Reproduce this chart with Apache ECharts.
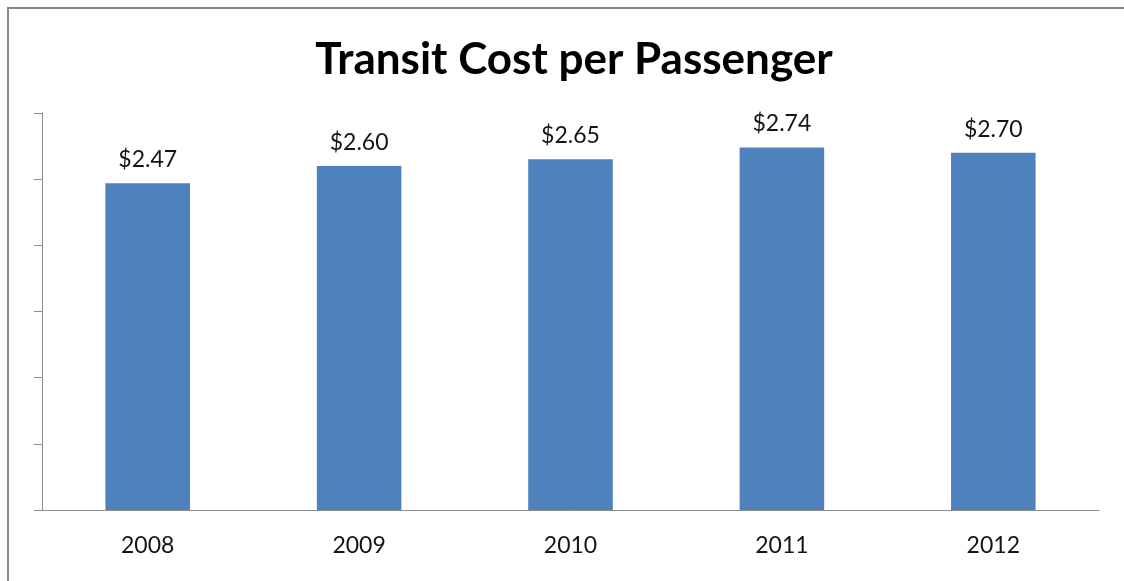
<!DOCTYPE html>
<html>
<head>
<meta charset="utf-8">
<script src="https://cdn.jsdelivr.net/npm/echarts@6/dist/echarts.min.js"></script>
<style>
html,body{margin:0;padding:0;background:#fff;}
#chart{width:1124px;height:581px;}
</style>
</head>
<body>
<div id="chart"></div>
<script>
const categories = ['2008', '2009', '2010', '2011', '2012'];
const costPerPassenger = [2.47, 2.60, 2.65, 2.74, 2.70];
const titleText = 'Transit Cost per Passenger';

const chart = echarts.init(document.getElementById('chart'), null, {renderer: 'canvas'});
chart.setOption({
  animation: false,
  backgroundColor: '#fff',
  title: {
    text: titleText,
    left: 569,
    textAlign: 'center',
    top: 33,
    textStyle: {fontFamily: 'Lato', fontWeight: 'bold', fontSize: 44, color: '#000'}
  },
  graphic: [{
    type: 'rect',
    shape: {x: 8, y: 8, width: 1300, height: 800},
    style: {fill: 'none', stroke: '#8a8a8a', lineWidth: 2},
    silent: true
  }],
  grid: {left: 42, right: 25, top: 113, bottom: 71},
  xAxis: {
    type: 'category',
    data: categories,
    axisLine: {lineStyle: {color: '#8c8c8c', width: 1}},
    axisTick: {show: false},
    axisLabel: {fontFamily: 'Lato', fontSize: 23, color: '#141414', margin: 24}
  },
  yAxis: {
    type: 'value',
    min: 0, max: 3, interval: 0.5,
    axisLine: {show: true, lineStyle: {color: '#8c8c8c', width: 1}},
    axisTick: {show: true, length: 8, lineStyle: {color: '#8c8c8c'}},
    axisLabel: {show: false},
    splitLine: {show: false}
  },
  series: [{
    type: 'bar',
    data: costPerPassenger,
    barWidth: '40%',
    itemStyle: {color: '#4F81BD'},
    label: {
      show: true,
      position: 'top',
      distance: 12,
      fontFamily: 'Lato',
      fontSize: 23,
      color: '#141414',
      formatter: p => '$' + p.value.toFixed(2)
    }
  }]
});
</script>
</body>
</html>
